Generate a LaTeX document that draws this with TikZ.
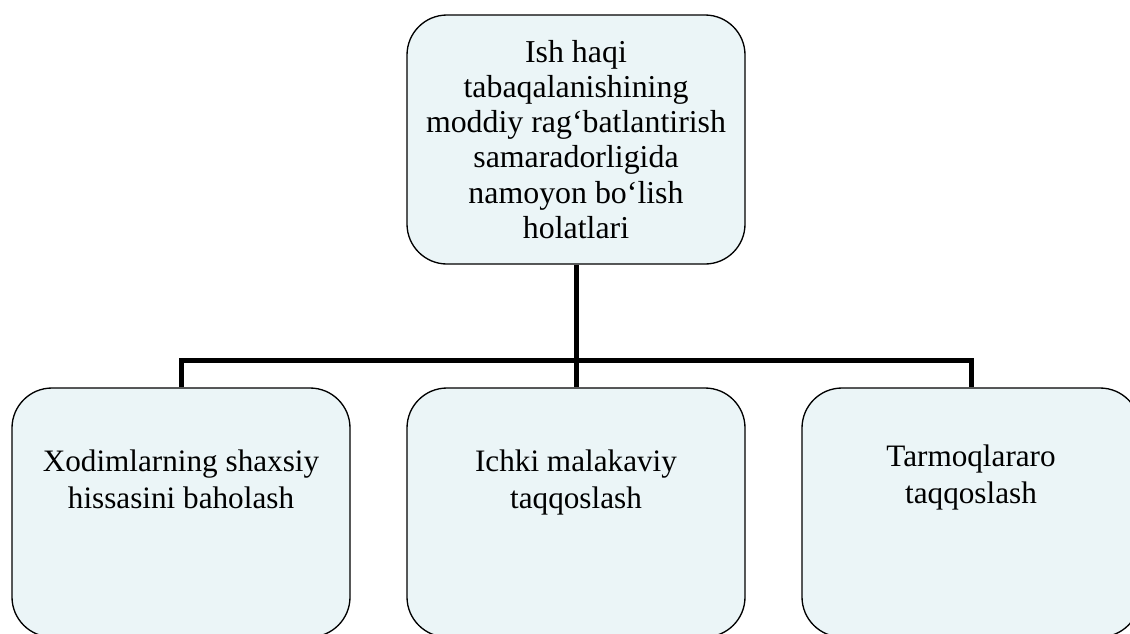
\documentclass[tikz,border=0pt]{standalone}
\usepackage{fontspec}
\setmainfont{Liberation Serif}
\definecolor{boxfill}{RGB}{235,245,247}
\begin{document}
\begin{tikzpicture}[x=0.75pt,y=-0.75pt,
  box/.style={draw=black, line width=1pt, fill=boxfill, rounded corners=30pt, inner sep=0pt,
              minimum width=253.5pt, minimum height=186.75pt},
  lbl/.style={align=center, inner sep=0pt, font=\fontsize{23.4}{27.8}\selectfont},
  toplbl/.style={align=center, font=\fontsize{23.9}{26.3}\selectfont},
  conn/.style={line width=3.75pt}]
\useasboundingbox (0,0) rectangle (1130,633);
\clip (0,0) rectangle (1130,633);
\coordinate (j) at (576,360);
\node[box, toplbl] (top) at (576,139.5)
  {Ish haqi\\tabaqalanishining\\moddiy rag‘batlantirish\\samaradorligida\\namoyon bo‘lish\\holatlari};
\node[box] (b1) at (181,512.5) {};
\node[box] (b2) at (576,512.5) {};
\node[box] (b3) at (971,512.5) {};
\node[lbl, anchor=north] (t1) at (181,450) {Xodimlarning shaxsiy\\hissasini baholash};
\node[lbl, anchor=north] (t2) at (576,450) {Ichki malakaviy\\taqqoslash};
\node[lbl, anchor=north] (t3) at (971,445) {Tarmoqlararo\\taqqoslash};
\draw[conn] (top.south) -- (b2.north);
\draw[conn] (b1.north) -- (b1.north |- j) -- (b3.north |- j) -- (b3.north);
\end{tikzpicture}
\end{document}
